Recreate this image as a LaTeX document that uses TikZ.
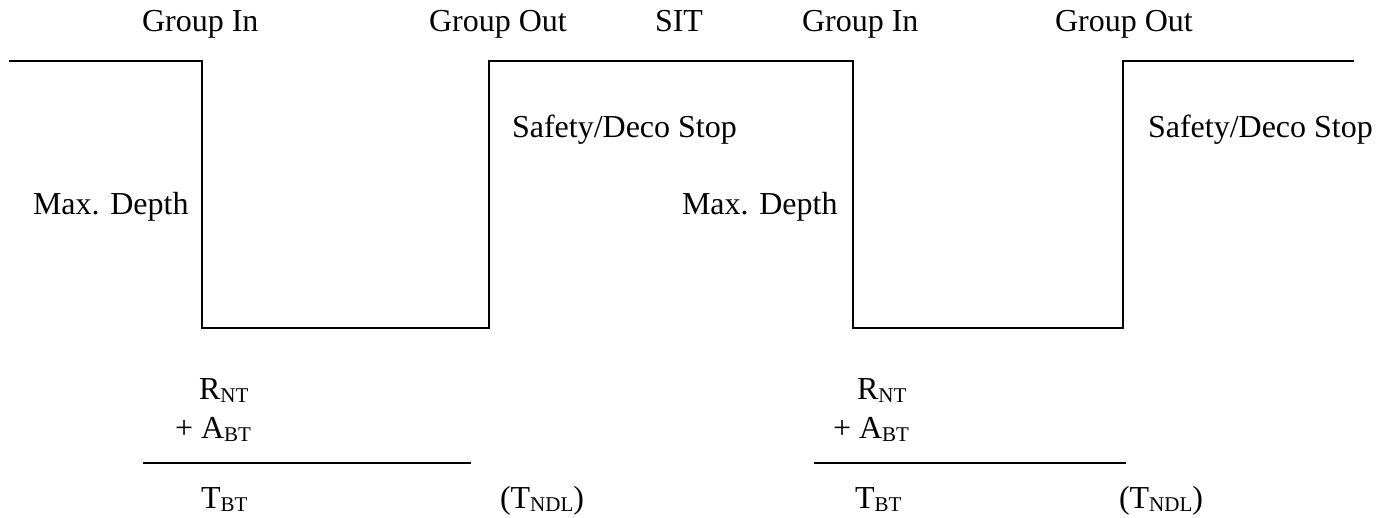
\documentclass[tikz,border=0pt]{standalone}
\usepackage{fontspec}
\setmainfont{Liberation Serif}
\newcommand\lbsub[1]{\raisebox{-1.7pt}{\fontsize{10.5}{12}\selectfont #1}}
\begin{document}
\begin{tikzpicture}[x=0.5pt,y=-0.5pt,
  lbl/.style={anchor=base west,inner sep=0pt,outer sep=0pt,font=\fontsize{16}{19}\selectfont},
  profile/.style={line width=1pt,line join=miter},
  rule/.style={line width=1pt}]
\useasboundingbox (0,0) rectangle (1381,518);
% profile corners
\coordinate (p0) at (9,61);
\coordinate (p1) at (202,61);
\coordinate (p2) at (202,328);
\coordinate (p3) at (489,328);
\coordinate (p4) at (489,61);
\coordinate (p5) at (853,61);
\coordinate (p6) at (853,328);
\coordinate (p7) at (1123,328);
\coordinate (p8) at (1123,61);
\coordinate (p9) at (1354,61);
\draw[profile] (p0) -- (p1) -- (p2) -- (p3) -- (p4) -- (p5) -- (p6) -- (p7) -- (p8) -- (p9);
% top labels
\node[lbl] (gin1) at (142,32) {Group In};
\node[lbl] (gout1) at (429,32) {Group Out};
\node[lbl] (sit) at (655,32) {SIT};
\node[lbl] (gin2) at (802,32) {Group In};
\node[lbl] (gout2) at (1055,32) {Group Out};
% side labels
\node[lbl] (stop1) at (512,138) {Safety/Deco Stop};
\node[lbl] (stop2) at (1148,138) {Safety/Deco Stop};
\node[lbl] (md1) at (33,215) {Max. Depth};
\node[lbl] (md2) at (682,215) {Max. Depth};
% sums, first dive
\node[lbl] (rnt1) at (199,399) {R\lbsub{NT}};
\node[lbl] (abt1) at (175,438) {+ A\lbsub{BT}};
\coordinate (s1a) at (143,463);
\coordinate (s1b) at (471,463);
\draw[rule] (s1a) -- (s1b);
\node[lbl] (tbt1) at (201,508) {T\lbsub{BT}};
\node[lbl] (tndl1) at (500,508) {(T\lbsub{NDL})};
% sums, second dive
\node[lbl] (rnt2) at (857,399) {R\lbsub{NT}};
\node[lbl] (abt2) at (833,438) {+ A\lbsub{BT}};
\coordinate (s2a) at (814,463);
\coordinate (s2b) at (1126,463);
\draw[rule] (s2a) -- (s2b);
\node[lbl] (tbt2) at (855,508) {T\lbsub{BT}};
\node[lbl] (tndl2) at (1119,508) {(T\lbsub{NDL})};
\end{tikzpicture}
\end{document}
